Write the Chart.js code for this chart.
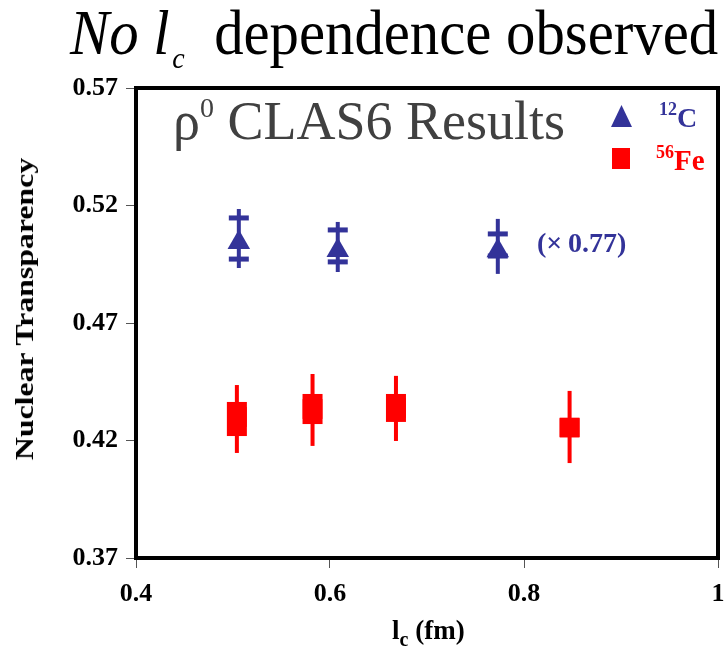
<!DOCTYPE html>
<html>
<head>
<meta charset="utf-8">
<script src="https://cdn.jsdelivr.net/npm/chart.js@4/dist/chart.umd.min.js"></script>
<style>
  html, body { margin: 0; padding: 0; background: #fff; }
  #wrap { position: relative; width: 727px; height: 650px; overflow: hidden; }
  #c { position: absolute; left: 0; top: 0; }
  .lbl { position: absolute; white-space: nowrap; line-height: 1; font-family: 'Liberation Serif', 'Times New Roman', serif; }
</style>
</head>
<body>
<div id="wrap">
  <canvas id="c" width="727" height="650"></canvas>
</div>
<script>
// ── data ──────────────────────────────────────────────────────────
// 12C (scaled x0.77): point, stat caps, full bar
const cX      = [0.506, 0.608, 0.773];
const cY      = [0.5043, 0.5008, 0.5007];
const cCapHi  = [0.5147, 0.5096, 0.5079];
const cCapLo  = [0.4972, 0.4960, 0.4985];
const cBarHi  = [0.5185, 0.5130, 0.5143];
const cBarLo  = [0.4934, 0.4917, 0.4909];

// 56Fe: point, stat box, full bar
const feX     = [0.504, 0.582, 0.668, 0.847];
const feY     = [0.4300, 0.4334, 0.4338, 0.4255];
const feBoxHi = [0.4364, 0.4398, 0.4398, 0.4295];
const feBoxLo = [0.4219, 0.4270, 0.4279, 0.4215];
const feBarHi = [0.4436, 0.4483, 0.4475, 0.4411];
const feBarLo = [0.4147, 0.4177, 0.4198, 0.4104];

const xTicks = [0.4, 0.6, 0.8, 1];
const yTicks = [0.37, 0.42, 0.47, 0.52, 0.57];

const BLUE = '#333399';
const RED  = '#ff0000';
const SERIF = "'Liberation Serif', 'Times New Roman', serif";
const RIGHT_GAP = 9;

// ── error bars + frame, drawn with the chart's scales ─────────────
const errorBars = {
  id: 'errorBars',
  // pin the right edge of the plot box (label overflow would pull it in)
  afterLayout(chart) {
    const a = chart.chartArea, x = chart.scales.x;
    const r = chart.width - RIGHT_GAP;
    a.right = r; a.width = r - a.left;
    x.right = r; x.width = r - x.left;
    x.configure();
  },
  beforeDatasetsDraw(chart) {
    const { ctx, scales: { x, y } } = chart;
    ctx.save();
    // carbon
    ctx.fillStyle = BLUE;
    cX.forEach((v, i) => {
      const px = x.getPixelForValue(v);
      const top = y.getPixelForValue(cBarHi[i]);
      const bot = y.getPixelForValue(cBarLo[i]);
      ctx.fillRect(px - 2, top, 4, bot - top);
      [cCapHi[i], cCapLo[i]].forEach(c => {
        const py = y.getPixelForValue(c);
        ctx.fillRect(px - 10, py - 2.5, 20, 5);
      });
    });
    // iron
    ctx.fillStyle = RED;
    feX.forEach((v, i) => {
      const px = x.getPixelForValue(v);
      const top = y.getPixelForValue(feBarHi[i]);
      const bot = y.getPixelForValue(feBarLo[i]);
      ctx.fillRect(px - 2, top, 4, bot - top);
      const bt = y.getPixelForValue(feBoxHi[i]);
      const bb = y.getPixelForValue(feBoxLo[i]);
      ctx.fillRect(px - 10, bt, 20, bb - bt);
    });
    ctx.restore();
  },
  afterDraw(chart) {
    const { ctx, chartArea: a } = chart;
    ctx.save();
    ctx.strokeStyle = '#000';
    ctx.lineWidth = 4;
    ctx.strokeRect(a.left, a.top, a.right - a.left, a.bottom - a.top);
    ctx.restore();
  }
};

const tickFont = { family: SERIF, size: 26, weight: 'bold' };

new Chart(document.getElementById('c'), {
  type: 'scatter',
  data: {
    datasets: [
      {
        label: '12C',
        data: cX.map((v, i) => ({ x: v, y: cY[i] })),
        pointStyle: 'triangle',
        pointRadius: 13,
        backgroundColor: BLUE,
        borderColor: BLUE,
        borderWidth: 0
      },
      {
        label: '56Fe',
        data: feX.map((v, i) => ({ x: v, y: feY[i] })),
        pointStyle: 'rect',
        pointRadius: 14,
        backgroundColor: RED,
        borderColor: RED,
        borderWidth: 0
      }
    ]
  },
  options: {
    responsive: false,
    animation: false,
    devicePixelRatio: 1,
    layout: { padding: { top: 88, right: RIGHT_GAP, left: 0, bottom: 0 } },
    plugins: { legend: { display: false }, tooltip: { enabled: false } },
    scales: {
      x: {
        type: 'linear',
        min: 0.4, max: 1,
        afterBuildTicks: s => { s.ticks = xTicks.map(v => ({ value: v })); },
        afterFit: s => { s.height = 92; },
        ticks: { font: tickFont, color: '#000', padding: 11, maxRotation: 0, callback: v => String(v) },
        grid: { drawOnChartArea: false, tickLength: 10, color: '#555', lineWidth: 1 },
        border: { display: false }
      },
      y: {
        type: 'linear',
        min: 0.37, max: 0.57,
        afterBuildTicks: s => { s.ticks = yTicks.map(v => ({ value: v })); },
        afterFit: s => { s.width = 136; },
        ticks: { font: tickFont, color: '#000', padding: 8, callback: v => v.toFixed(2) },
        grid: { drawOnChartArea: false, tickLength: 10, color: '#555', lineWidth: 1 },
        border: { display: false }
      }
    }
  },
  plugins: [errorBars]
});

// ── text overlays ─────────────────────────────────────────────────
const wrap = document.getElementById('wrap');
// place a label with its left edge at x and its baseline at base
function label(html, x, base, size, css) {
  const d = document.createElement('div');
  d.className = 'lbl';
  d.innerHTML = html;
  d.style.left = x + 'px';
  d.style.top = (base - 0.8375 * size) + 'px';
  d.style.fontSize = size + 'px';
  if (css) Object.assign(d.style, css);
  wrap.appendChild(d);
  return d;
}

// title, squeezed to the reference width
const title = label('<i>No l</i><i style="font-size:30px;position:relative;top:14px;margin-left:3px">c</i>&nbsp;&nbsp;dependence observed',
  70, 55, 63, { color: '#000', transformOrigin: '0 0' });
title.style.transform = 'scaleX(' + (648 / title.offsetWidth) + ')';

// panel header
label('&rho;<span style="font-size:28px;position:relative;top:-22px">0</span> CLAS6 Results', 173, 139, 54, { color: '#404040' });

// legend
const tri = document.createElement('div');
Object.assign(tri.style, { position: 'absolute', left: '611px', top: '105px', width: '21px', height: '22px',
  background: BLUE, clipPath: 'polygon(50% 0, 100% 100%, 0 100%)' });
wrap.appendChild(tri);
const sq = document.createElement('div');
Object.assign(sq.style, { position: 'absolute', left: '612px', top: '148px', width: '18px', height: '21px', background: RED });
wrap.appendChild(sq);
label('<span style="font-size:18px;position:relative;top:-12px">12</span>C', 659, 127, 28, { color: BLUE, fontWeight: 'bold' });
label('<span style="font-size:18px;position:relative;top:-12px">56</span>Fe', 656, 170, 29, { color: RED, fontWeight: 'bold' });

// scale note
label('(&times;&thinsp;0.77)', 537, 252, 28, { color: BLUE, fontWeight: 'bold' });

// axis titles
const yt = document.createElement('div');
yt.className = 'lbl';
yt.textContent = 'Nuclear Transparency';
Object.assign(yt.style, { left: '25px', top: '309px', fontSize: '26px', fontWeight: 'bold', color: '#000' });
wrap.appendChild(yt);
yt.style.transform = 'translate(-50%,-50%) rotate(-90deg) scaleX(' + (302 / yt.offsetWidth) + ')';

label('l<span style="font-size:20px;position:relative;top:7px">c</span> (fm)', 392, 640, 27, { fontWeight: 'bold', color: '#000' });
</script>
</body>
</html>
